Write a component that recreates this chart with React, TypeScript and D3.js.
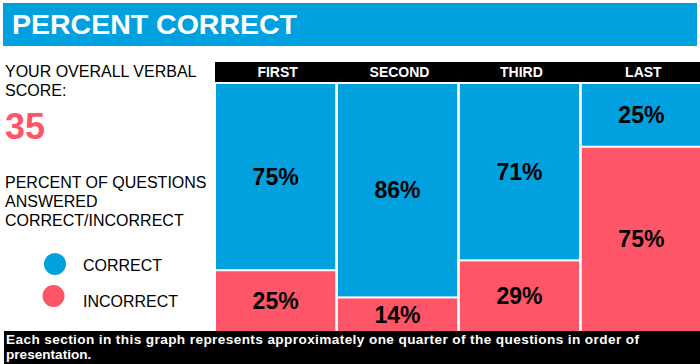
import * as d3 from 'd3'

const sections = ['FIRST', 'SECOND', 'THIRD', 'LAST']
const correct = [75, 86, 71, 25]
const incorrect = [25, 14, 29, 75]
const overallScore = 35
const legendItems = ['CORRECT', 'INCORRECT']

const BLUE = '#00A1DE'
const RED = '#FF5568'
const FONT = 'Liberation Sans, Arial, sans-serif'

export default function App() {
  const width = 700
  const height = 364

  const x = d3.scaleBand<string>().domain(sections).range([216, 701]).paddingInner(0.022).paddingOuter(0)
  const y = d3.scaleLinear().domain([0, 100]).range([84, 331])
  const color = d3.scaleOrdinal<string, string>().domain(legendItems).range([BLUE, RED])
  const gap = 2

  return (
    <svg width={width} height={height} style={{ position: 'absolute', left: 0, top: 0 }} fontFamily={FONT}>
      <rect width={width} height={height} fill="#fff" />

      {/* title bar */}
      <rect x={3} y={3} width={694} height={43} fill={BLUE} />
      <text x={12} y={34} fill="#fff" fontSize={28.5} fontWeight="bold">PERCENT CORRECT</text>

      {/* left panel */}
      <text x={5} y={77} fontSize={16} fill="#000">YOUR OVERALL VERBAL</text>
      <text x={5} y={96} fontSize={16} fill="#000">SCORE:</text>
      <text x={5} y={139} fontSize={36} fontWeight="bold" fill={RED}>{overallScore}</text>
      <text x={5} y={188} fontSize={16} fill="#000">PERCENT OF QUESTIONS</text>
      <text x={5} y={207} fontSize={16} fill="#000">ANSWERED</text>
      <text x={5} y={226} fontSize={16} fill="#000">CORRECT/INCORRECT</text>

      {legendItems.map((d, i) => (
        <g key={d}>
          <circle cx={55 - i * 1.5} cy={264 + i * 32} r={11} fill={color(d)} />
          <text x={83} y={271 + i * 36} fontSize={16} fill="#000">{d}</text>
        </g>
      ))}

      {/* header */}
      <rect x={215} y={62} width={485} height={20} fill="#000" />
      {sections.map((s) => (
        <text key={s} x={(x(s) ?? 0) + x.bandwidth() / 2 + 2} y={76.5} textAnchor="middle" fill="#fff" fontSize={14} fontWeight="bold">
          {s}
        </text>
      ))}

      {/* bars */}
      {sections.map((s, i) => {
        const x0 = x(s) ?? 0
        const bw = x.bandwidth()
        const yTop = y(0)
        const ySplit = y(correct[i])
        const yBot = y(100)
        return (
          <g key={s}>
            <rect x={x0} y={yTop} width={bw} height={ySplit - yTop} fill={BLUE} />
            <rect x={x0} y={ySplit + gap} width={bw} height={yBot - ySplit - gap} fill={RED} />
            <text x={x0 + bw / 2} y={(yTop + ySplit) / 2 + 8} textAnchor="middle" fontSize={23} fontWeight="bold" fill="#000">
              {correct[i]}%
            </text>
            <text x={x0 + bw / 2} y={(ySplit + gap + yBot) / 2 + 8} textAnchor="middle" fontSize={23} fontWeight="bold" fill="#000">
              {incorrect[i]}%
            </text>
          </g>
        )
      })}

      {/* caption */}
      <rect x={4} y={331} width={696} height={33} fill="#000" />
      <text x={6} y={344} fill="#fff" fontSize={13.6} fontWeight="bold" textLength={633} lengthAdjust="spacing">
        Each section in this graph represents approximately one quarter of the questions in order of
      </text>
      <text x={6} y={359} fill="#fff" fontSize={13.6} fontWeight="bold">presentation.</text>
    </svg>
  )
}
